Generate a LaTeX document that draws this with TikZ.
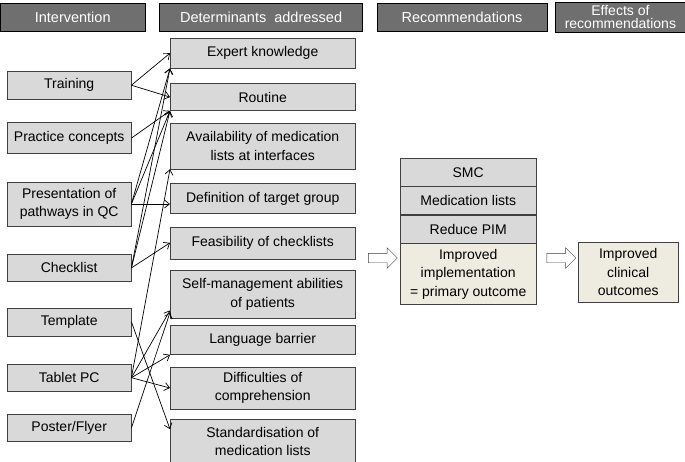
\documentclass[tikz,border=0pt]{standalone}
\usepackage{fontspec}
\setmainfont{Liberation Sans}
\usepackage{tikz}
\usetikzlibrary{shapes,arrows,arrows.meta,positioning}
\definecolor{headgray}{HTML}{6F6F6F}
\definecolor{boxgray}{HTML}{D9D9D9}
\definecolor{beige}{HTML}{EEECE1}
\definecolor{edgegray}{HTML}{404040}
\tikzstyle{head} = [draw=black, fill=headgray, text=white, minimum height=28pt, inner sep=1pt, font=\fontsize{14.5}{15}\selectfont]
\tikzstyle{interv} = [draw=edgegray, fill=boxgray, minimum width=124pt, inner sep=1pt, align=center, font=\fontsize{14}{18.5}\selectfont]
\tikzstyle{determ} = [interv, minimum width=185pt]
\tikzstyle{recom} = [interv, minimum width=136pt, minimum height=28pt]
\tikzstyle{outcome} = [interv, fill=beige]
\tikzstyle{hollow} = [single arrow, draw=edgegray, fill=white, inner sep=4.5pt, single arrow head extend=5.5pt, single arrow head indent=0pt, minimum height=29pt]
\tikzstyle{arrow} = [-{Straight Barb[length=5pt,width=8pt]}, line width=0.7pt]

\begin{document}
\begin{tikzpicture}[x=1pt, y=-1pt]
    \useasboundingbox (0,0) rectangle (685,461);
    % headings
    \node[head, minimum width=145pt, anchor=north west] (hint) at (0,3) {Intervention};
    \node[head, minimum width=203pt, right=14pt of hint] (hdet) {Determinants\ \ addressed};
    \node[head, minimum width=170pt, right=14pt of hdet] (hrec) {Recommendations};
    \node[head, minimum width=130pt, minimum height=30pt, right=8pt of hrec, align=center, font=\fontsize{14}{13.5}\selectfont] (heff) {Effects of\\recommendations};
    % interventions
    \node[interv, minimum height=28pt, anchor=north west] (train) at (7,71) {Training};
    \node[interv, minimum height=31pt, below=23pt of train] (pract) {Practice concepts};
    \node[interv, minimum height=44pt, below=28pt of pract] (pres) {Presentation of\\pathways in QC};
    \node[interv, minimum height=27pt, below=28pt of pres] (chk) {Checklist};
    \node[interv, minimum height=28pt, below=26pt of chk] (tmpl) {Template};
    \node[interv, minimum height=27pt, below=28pt of tmpl] (tab) {Tablet PC};
    \node[interv, minimum height=27pt, below=23pt of tab] (post) {Poster/Flyer};
    % determinants
    \node[determ, minimum height=30pt, anchor=north west] (expert) at (170,38) {Expert knowledge};
    \node[determ, minimum height=27pt, below=15pt of expert] (rout) {Routine};
    \node[determ, minimum height=46pt, below=12pt of rout] (avail) {Availability of medication\\lists at interfaces};
    \node[determ, minimum height=30pt, below=14pt of avail] (target) {Definition of target group};
    \node[determ, minimum height=32pt, below=13pt of target] (feas) {Feasibility of checklists};
    \node[determ, minimum height=48pt, below=11pt of feas] (selfm) {Self-management abilities\\of patients};
    \node[determ, minimum height=29pt, below=7pt of selfm] (lang) {Language barrier};
    \node[determ, minimum height=42pt, below=12pt of lang] (diff) {Difficulties of\\comprehension};
    \node[determ, minimum height=44pt, below=10pt of diff] (std) {Standardisation of\\medication lists};
    % recommendations and effects
    \node[recom, anchor=north west] (smc) at (400,158) {SMC};
    \node[recom, below=0pt of smc] (medl) {Medication lists};
    \node[recom, below=0pt of medl] (pim) {Reduce PIM};
    \node[recom, fill=beige, minimum height=61pt, below=0pt of pim] (impl) {Improved\\implementation\\= primary outcome};
    \node[outcome, minimum width=100pt, minimum height=60pt, anchor=north west] (clin) at (578,242) {Improved\\clinical\\outcomes};
    \node[hollow] (harr1) at (380.5,258) {};
    \node[hollow] (harr2) at (559,258) {};
    % links
    \draw[arrow] (train.east) -- (expert.west);
    \draw[arrow] (train.east) -- (rout.west);
    \draw[arrow] (pract.east) -- (rout.south west);
    \draw[arrow] (pres.east) -- (expert.south west);
    \draw[arrow] (pres.east) -- (rout.south west);
    \draw[arrow] (pres.east) -- (pres.east -| target.west);
    \draw[arrow] (chk.east) -- (expert.south west);
    \draw[arrow] (chk.east) -- (rout.south west);
    \draw[arrow] (chk.east) -- (feas.west);
    \draw[arrow] (tmpl.east) -- ([yshift=-10pt]std.north west);
    \draw[arrow] (tab.east) -- (avail.south west);
    \draw[arrow] (tab.east) -- ([yshift=8pt]selfm.south west);
    \draw[arrow] (tab.east) -- (lang.south west);
    \draw[arrow] (tab.east) -- (diff.west);
    \draw[arrow] (post.east) -- ([yshift=6pt]selfm.south west);
\end{tikzpicture}
\end{document}
